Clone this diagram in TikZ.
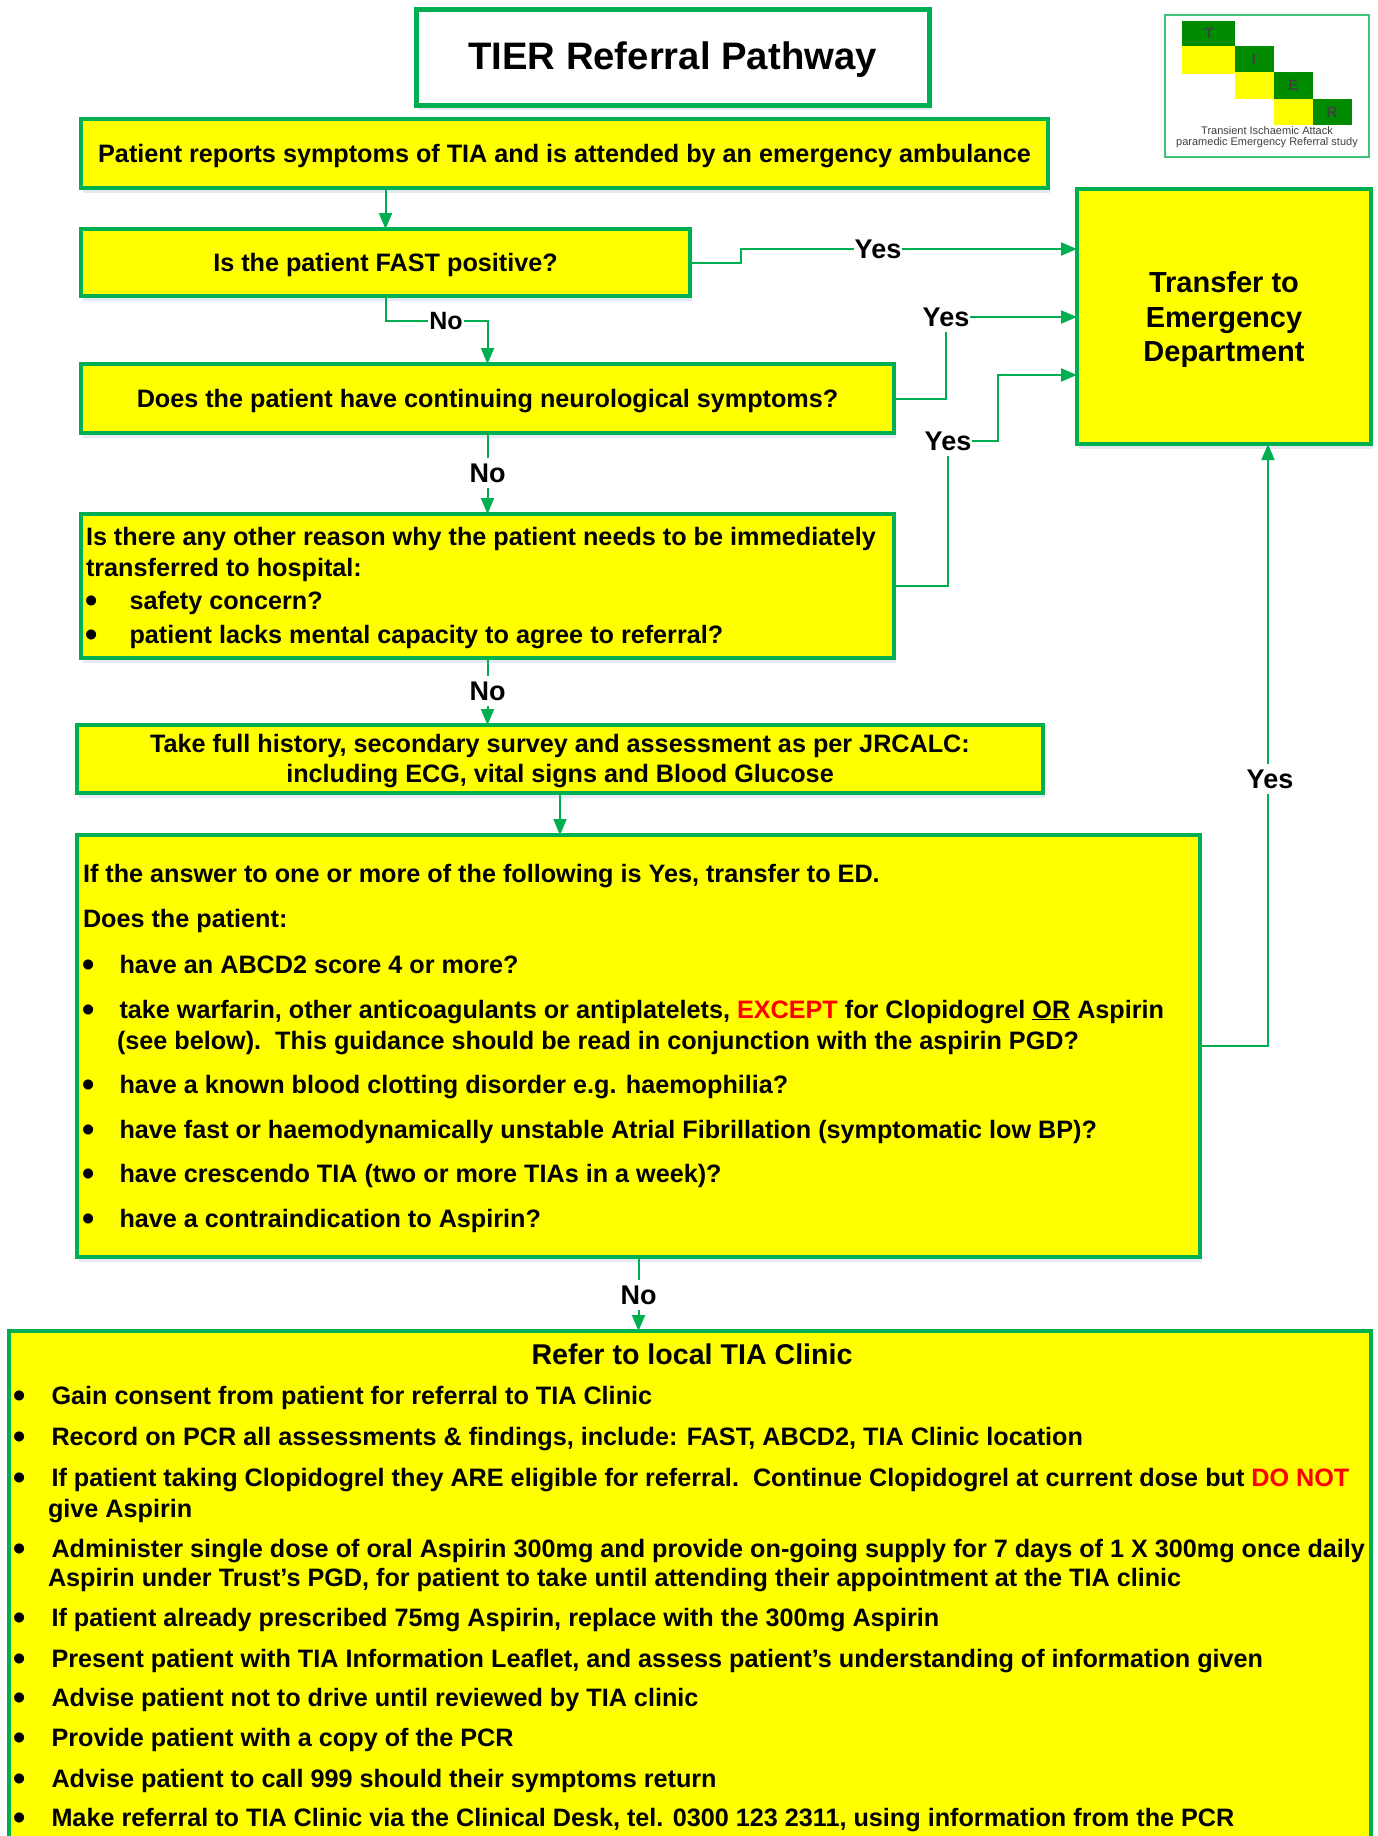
\documentclass[tikz,border=0pt]{standalone}
\usepackage{fontspec}
\setmainfont{Liberation Sans}
\usetikzlibrary{arrows.meta,shadows}
\definecolor{tgreen}{RGB}{0,176,80}
\definecolor{tyellow}{RGB}{255,255,0}
\definecolor{tdark}{RGB}{0,140,0}
\definecolor{tshadow}{RGB}{90,130,190}
\newcommand{\fs}[1]{\fontsize{#1}{#1}\selectfont\bfseries}
\newcommand{\bdot}{\hspace{-0.5pt}\raisebox{-3.6pt}{\fontsize{35}{35}\selectfont•}}
\newcommand{\blA}{\makebox[36.5pt][l]{\bdot}}
\newcommand{\blB}{\makebox[43.5pt][l]{\bdot}}
\newcommand{\blC}{\makebox[37.5pt][l]{\bdot}}
\tikzset{
  boxn/.style={draw=tgreen,line width=4pt,fill=tyellow,inner sep=0pt,outer sep=0pt,align=center,text=black,
     drop shadow={shadow xshift=2pt,shadow yshift=-5pt,opacity=.16,fill=tshadow}},
  onetext/.style={text height=20pt,text depth=3pt,font=\fs{25.2}},
  linen/.style={anchor=base west,inner sep=0pt,outer sep=0pt,text=black,font=\fs{25.2}},
  blockt/.style={inner sep=0pt,outer sep=0pt,align=center,text=black},
  lab/.style={fill=white,inner xsep=1pt,inner ysep=6pt,outer sep=0pt,text=black,font=\fs{27}},
  conn/.style={draw=tgreen,line width=2pt},
  arr/.style={conn,-{Triangle[length=16pt,width=13pt]}},
  logotxt/.style={inner sep=0pt,outer sep=0pt,text=black!75}
}
\begin{document}
\begin{tikzpicture}[x=1pt,y=-1pt]
\useasboundingbox (0,0) rectangle (1377,1836);
\clip (0,0) rectangle (1377,1836);
\fill[white] (0,0) rectangle (1377,1836);
% boxes
\node[boxn,line width=5pt,fill=white,minimum width=513pt,minimum height=95pt,font=\fs{38.3},text height=30pt,text depth=6pt] (title) at (672.5,57.5) {TIER Referral Pathway};
\node[boxn,minimum width=967pt,minimum height=69pt,onetext] (b1) at (564.5,153.5) {Patient reports symptoms of TIA and is attended by an emergency ambulance};
\node[boxn,minimum width=609pt,minimum height=67pt,onetext] (b2) at (385.5,262.5) {Is the patient FAST positive?};
\node[boxn,minimum width=813pt,minimum height=69pt,onetext] (b3) at (487.5,398.5) {Does the patient have continuing neurological symptoms?};
\node[boxn,minimum width=813pt,minimum height=144pt] (b4) at (487.5,586) {};
\node[boxn,minimum width=966pt,minimum height=68pt] (b5) at (560,759) {};
\node[boxn,minimum width=1123pt,minimum height=422pt] (b6) at (638.5,1046) {};
\node[boxn,minimum width=1362pt,minimum height=540pt] (b7) at (690,1601) {};
\node[boxn,minimum width=294pt,minimum height=255pt] (ed) at (1224,316.5) {};
\node[blockt,font=\fontsize{25.2}{30}\selectfont\bfseries] (b5t) at (560,761.5) {Take full history, secondary survey and assessment as per JRCALC:\\including ECG, vital signs and Blood Glucose};
\node[blockt,font=\fontsize{29}{34.5}\selectfont\bfseries] (edt) at (1224,319.5) {Transfer to\\Emergency\\Department};
% box 4 text
\node[linen] (b4a) at (86,545) {Is there any other reason why the patient needs to be immediately};
\node[linen] (b4b) at (86,576) {transferred to hospital:};
\node[linen] (b4c) at (86,609) {\blB safety concern?};
\node[linen] (b4d) at (86,643) {\blB patient lacks mental capacity to agree to referral?};
% box 6 text
\node[linen] (b6a) at (83,882) {If the answer to one or more of the following is Yes, transfer to ED.};
\node[linen] (b6b) at (83,927) {Does the patient:};
\node[linen] (b6c) at (83,973) {\blA have an ABCD2 score 4 or more?};
\node[linen] (b6d) at (83,1018) {\blA take warfarin, other anticoagulants or antiplatelets, \textcolor{red}{EXCEPT} for Clopidogrel \underline{OR} Aspirin};
\node[linen] (b6e) at (117,1049) {(see below).\ \ This guidance should be read in conjunction with the aspirin PGD?};
\node[linen] (b6f) at (83,1093) {\blA have a known blood clotting disorder e.g. haemophilia?};
\node[linen] (b6g) at (83,1138) {\blA have fast or haemodynamically unstable Atrial Fibrillation (symptomatic low BP)?};
\node[linen] (b6h) at (83,1182) {\blA have crescendo TIA (two or more TIAs in a week)?};
\node[linen] (b6i) at (83,1227) {\blA have a contraindication to Aspirin?};
% box 7 text
\node[inner sep=0pt,text=black,font=\fs{28.6}] (b7t) at (692,1354) {Refer to local TIA Clinic};
\node[linen] (b7a) at (14,1404) {\blC Gain consent from patient for referral to TIA Clinic};
\node[linen] (b7b) at (14,1445) {\blC Record on PCR all assessments \& findings, include: FAST, ABCD2, TIA Clinic location};
\node[linen] (b7c) at (14,1486) {\blC If patient taking Clopidogrel they ARE eligible for referral.\ \ Continue Clopidogrel at current dose but \textcolor{red}{DO NOT}};
\node[linen] (b7d) at (48,1517) {give Aspirin};
\node[linen] (b7e) at (14,1557) {\blC Administer single dose of oral Aspirin 300mg and provide on-going supply for 7 days of 1 X 300mg once daily};
\node[linen] (b7f) at (48,1586) {Aspirin under Trust’s PGD, for patient to take until attending their appointment at the TIA clinic};
\node[linen] (b7g) at (14,1626) {\blC If patient already prescribed 75mg Aspirin, replace with the 300mg Aspirin};
\node[linen] (b7h) at (14,1667) {\blC Present patient with TIA Information Leaflet, and assess patient’s understanding of information given};
\node[linen] (b7i) at (14,1706) {\blC Advise patient not to drive until reviewed by TIA clinic};
\node[linen] (b7j) at (14,1746) {\blC Provide patient with a copy of the PCR};
\node[linen] (b7k) at (14,1787) {\blC Advise patient to call 999 should their symptoms return};
\node[linen] (b7l) at (14,1826) {\blC Make referral to TIA Clinic via the Clinical Desk, tel. 0300 123 2311, using information from the PCR};
% logo
\node[draw=tgreen!75,line width=2.5pt,fill=white,minimum width=204pt,minimum height=142pt,inner sep=0pt,outer sep=0pt] (logo) at (1267,86) {};
\fill[tdark] (1182,21) rectangle (1235,46);
\fill[tyellow] (1182,46) rectangle (1235,74);
\fill[tdark] (1235,46) rectangle (1274,72);
\fill[tyellow] (1235,72) rectangle (1274,99);
\fill[tdark] (1274,72) rectangle (1313,99);
\fill[tyellow] (1274,99) rectangle (1313,125);
\fill[tdark] (1313,99) rectangle (1352,125);
\node[logotxt,font=\fs{15}] (lt) at (1209,33) {T};
\node[logotxt,font=\fs{15}] (li) at (1254,59) {I};
\node[logotxt,font=\fs{15}] (le) at (1293,85) {E};
\node[logotxt,font=\fs{15}] (lr) at (1332,112) {R};
\node[logotxt,font=\fontsize{11}{11}\selectfont] (l1) at (1267,131) {Transient Ischaemic Attack};
\node[logotxt,font=\fontsize{11}{11}\selectfont] (l2) at (1267,143) {paramedic Emergency Referral study};
% labels
\node[lab] (yes1) at (878,249) {Yes};
\node[lab] (yes2) at (946,317) {Yes};
\node[lab] (yes3) at (948,441) {Yes};
\node[lab] (yes4) at (1270,779) {Yes};
\node[lab,font=\fs{25}] (no1) at (446,321) {No};
\node[lab] (no2) at (487.5,473) {No};
\node[lab] (no3) at (487.5,691) {No};
\node[lab] (no4) at (638.5,1295) {No};
\coordinate (j1) at (741,249);
\coordinate (j3) at (998,375);
\coordinate (j4) at (1268,444);
% connectors
\draw[arr] (b2.north |- b1.south) -- (b2.north);
\draw[conn] (b2.east) -| (j1) -- (yes1.west);
\draw[arr] (yes1.east) -- (ed.west |- yes1.east);
\draw[conn] (b2.south) |- (no1.west);
\draw[arr] (no1.east) -| (b3.north);
\draw[conn] (b3.east) -| (yes2.south);
\draw[arr] (yes2.east) -- (ed.west |- yes2.east);
\draw[conn] (b3.south) -- (no2.north);
\draw[arr] (no2.south) -- (b4.north);
\draw[conn] (b4.east) -| (yes3.south);
\draw[arr] (yes3.east) -| (j3) -- (ed.west |- j3);
\draw[conn] (b4.south) -- (no3.north);
\draw[arr] (no3.south) -- (no3.south |- b5.north);
\draw[arr] (b5.south) -- (b5.south |- b6.north);
\draw[conn] (b6.east) -| (yes4.south -| j4);
\draw[arr] (yes4.north -| j4) -- (j4);
\draw[conn] (b6.south) -- (no4.north);
\draw[arr] (no4.south) -- (no4.south |- b7.north);
\end{tikzpicture}
\end{document}
